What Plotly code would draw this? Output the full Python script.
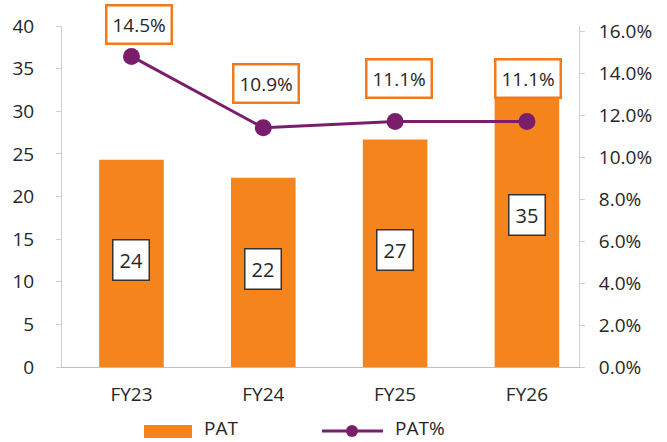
import plotly.graph_objects as go

categories = ["FY23", "FY24", "FY25", "FY26"]
pat = [24.3, 22.2, 26.7, 35.0]
pat_labels = ["24", "22", "27", "35"]
pat_pct = [14.8, 11.4, 11.7, 11.7]
pat_pct_labels = ["14.5%", "10.9%", "11.1%", "11.1%"]
series_names = ["PAT", "PAT%"]

FONT = "Open Sans"
ORANGE = "#F6841D"
PURPLE = "#7A1E6C"
TXT = "#262626"
FS = 19

L, R, T, B = 62, 88, 26, 75
W, H = 667, 442
PW, PH = W - L - R, H - T - B


def px2paper_x(px):
    return (px - L) / PW


def px2paper_y(py):
    return (H - B - py) / PH


fig = go.Figure()
fig.add_trace(go.Bar(
    x=categories, y=pat, name=series_names[0], width=0.49,
    marker=dict(color=ORANGE, line=dict(width=0)),
    yaxis="y", showlegend=False, hoverinfo="skip",
))
fig.add_trace(go.Scatter(
    x=categories, y=pat_pct, name=series_names[1], mode="lines+markers",
    line=dict(color=PURPLE, width=3),
    marker=dict(color=PURPLE, size=17),
    yaxis="y2", showlegend=False, hoverinfo="skip",
))

annotations = []
for c, v, t in zip(categories, pat, pat_labels):
    annotations.append(dict(
        x=c, y=v / 2, xref="x", yref="y", text=t, showarrow=False,
        font=dict(family=FONT, size=FS + 1, color=TXT),
        bgcolor="white", bordercolor="#333333", borderwidth=1.5, borderpad=6,
        yshift=3,
    ))
yshifts = [32, 44, 43, 43]
xshifts = [8, 3, 4, 1]
for c, v, t, s, xs in zip(categories, pat_pct, pat_pct_labels, yshifts, xshifts):
    annotations.append(dict(
        x=c, y=v, xref="x", yref="y2", text=t, showarrow=False,
        font=dict(family=FONT, size=FS, color=TXT),
        bgcolor="white", bordercolor="#F07A1E", borderwidth=2.5, borderpad=5,
        yshift=s, xshift=xs,
    ))

# custom legend
shapes = [
    dict(type="rect", xref="paper", yref="paper",
         x0=px2paper_x(144), x1=px2paper_x(192), y0=px2paper_y(438), y1=px2paper_y(425),
         fillcolor=ORANGE, line=dict(width=0), layer="above"),
    dict(type="line", xref="paper", yref="paper",
         x0=px2paper_x(322), x1=px2paper_x(383), y0=px2paper_y(431), y1=px2paper_y(431),
         line=dict(color=PURPLE, width=3), layer="above"),
    dict(type="circle", xref="paper", yref="paper",
         x0=px2paper_x(346), x1=px2paper_x(358), y0=px2paper_y(437), y1=px2paper_y(425),
         fillcolor=PURPLE, line=dict(width=0), layer="above"),
]
annotations.append(dict(x=px2paper_x(202), y=px2paper_y(428), xref="paper", yref="paper",
                        xanchor="left", yanchor="middle", text=series_names[0], showarrow=False,
                        font=dict(family=FONT, size=FS, color=TXT)))
annotations.append(dict(x=px2paper_x(393), y=px2paper_y(428), xref="paper", yref="paper",
                        xanchor="left", yanchor="middle", text=series_names[1], showarrow=False,
                        font=dict(family=FONT, size=FS, color=TXT)))

fig.update_layout(
    width=W, height=H,
    margin=dict(l=L, r=R, t=T, b=B, autoexpand=False),
    paper_bgcolor="white", plot_bgcolor="white",
    font=dict(family=FONT, size=FS, color=TXT),
    showlegend=False,
    xaxis=dict(range=[-0.527, 3.395], showline=True, linecolor="#BFBFBF", linewidth=1,
               ticks="", tickfont=dict(family=FONT, size=FS, color=TXT), showgrid=False,
               ticklabelstandoff=10),
    yaxis=dict(range=[0, 40], dtick=5, showline=True, linecolor="#D0D0D0", linewidth=1,
               ticks="outside", ticklen=5, tickcolor="#D0D0D0", showgrid=False,
               zeroline=False, tickfont=dict(family=FONT, size=FS, color=TXT),
               ticklabelstandoff=18),
    yaxis2=dict(range=[0, 16.25], tickvals=[0, 2, 4, 6, 8, 10, 12, 14, 16],
                ticktext=["0.0%", "2.0%", "4.0%", "6.0%", "8.0%", "10.0%", "12.0%", "14.0%", "16.0%"],
                overlaying="y", side="right", showline=True, linecolor="#D0D0D0", linewidth=1,
                ticks="outside", ticklen=5, tickcolor="#D0D0D0", showgrid=False, zeroline=False,
                tickfont=dict(family=FONT, size=FS, color=TXT), ticklabelstandoff=10),
    annotations=annotations,
    shapes=shapes,
)

fig.write_html("out.html", config={"displayModeBar": False},
               post_script="document.body.style.margin='0';document.body.style.overflow='hidden';")
